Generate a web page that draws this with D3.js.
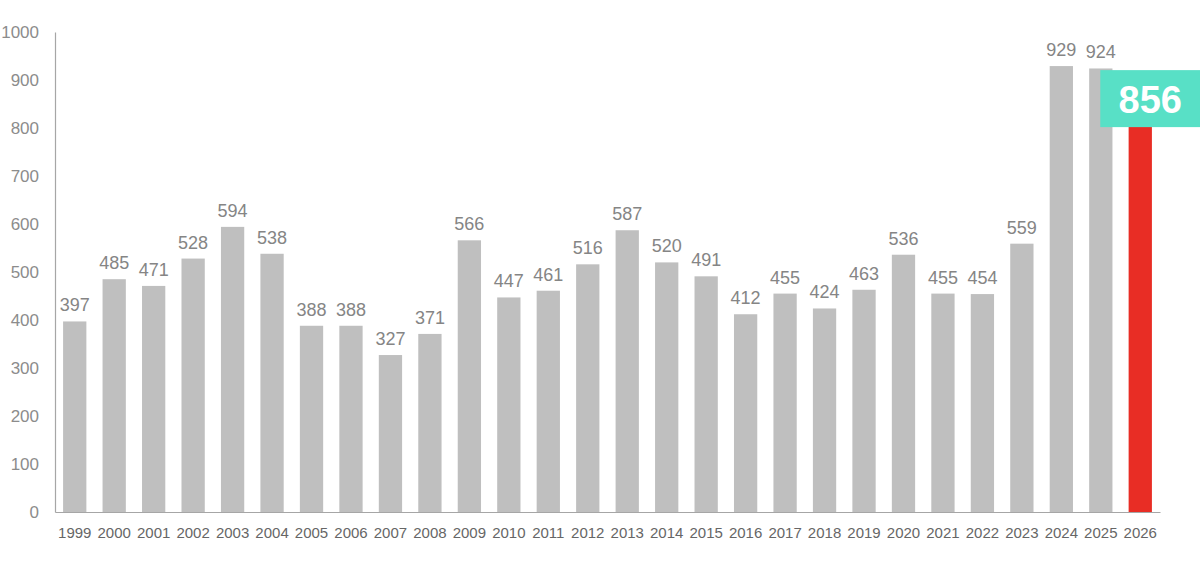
<!DOCTYPE html>
<html><head><meta charset="utf-8">
<script src="https://cdn.jsdelivr.net/npm/d3@7"></script>
<style>body{margin:0;background:#fff}svg{display:block}text{font-family:"Liberation Sans",Arial,sans-serif}</style>
</head><body><svg id="c" width="1200" height="564"></svg>
<script>
const years = ["1999","2000","2001","2002","2003","2004","2005","2006","2007","2008","2009","2010","2011","2012","2013","2014","2015","2016","2017","2018","2019","2020","2021","2022","2023","2024","2025","2026"];
const values = [397,485,471,528,594,538,388,388,327,371,566,447,461,516,587,520,491,412,455,424,463,536,455,454,559,929,924,856];
const yTicks = [0,100,200,300,400,500,600,700,800,900,1000];
const highlightYear = "2026";

const svg = d3.select("#c");
const x = d3.scaleBand().domain(years).range([55,1160]).paddingInner(0.41).paddingOuter(0.205);
const y = d3.scaleLinear().domain([0,1000]).range([512,32]);

// bars
svg.selectAll("rect.bar").data(years).join("rect")
  .attr("x", d => x(d)).attr("width", x.bandwidth())
  .attr("y", (d,i) => y(values[i])).attr("height", (d,i) => y(0)-y(values[i]))
  .attr("fill", d => d === highlightYear ? "#e82d25" : "#bfbfbf");

// y axis
const ya = d3.axisLeft(y).tickValues(yTicks).tickFormat(d3.format("d")).tickSize(0).tickPadding(16);
const gy = svg.append("g").attr("transform","translate(55,0)").call(ya);
gy.select(".domain").attr("stroke","#a6a6a6").attr("stroke-width",1.2);
gy.selectAll("text").attr("fill","#8c8c8c").style("font-size","17px");

// x axis
const xa = d3.axisBottom(x).tickSize(0).tickPadding(15);
const gx = svg.append("g").attr("transform","translate(0,512)").call(xa);
gx.select(".domain").attr("stroke","#a6a6a6").attr("stroke-width",1.2);
gx.selectAll("text").attr("fill","#666").style("font-size","15px");

// value labels
svg.selectAll("text.val").data(years.filter(d => d !== highlightYear)).join("text")
  .attr("class","val")
  .attr("x", d => x(d) + x.bandwidth()/2)
  .attr("y", d => y(values[years.indexOf(d)]) - 10)
  .attr("text-anchor","middle").attr("fill","#858585").style("font-size","18px")
  .text(d => values[years.indexOf(d)]);

// highlight label
const hi = years.indexOf(highlightYear);
const cx = x(highlightYear) + x.bandwidth()/2;
svg.append("rect").attr("x", cx-40).attr("y", y(values[hi]) - 31).attr("width", 100).attr("height", 57).attr("fill","#58e0c6");
svg.append("text").attr("x", cx+10).attr("y", y(values[hi]) + 12)
  .attr("text-anchor","middle").attr("fill","#fff").style("font-size","38px").style("font-weight","bold")
  .text(values[hi]);
</script></body></html>
